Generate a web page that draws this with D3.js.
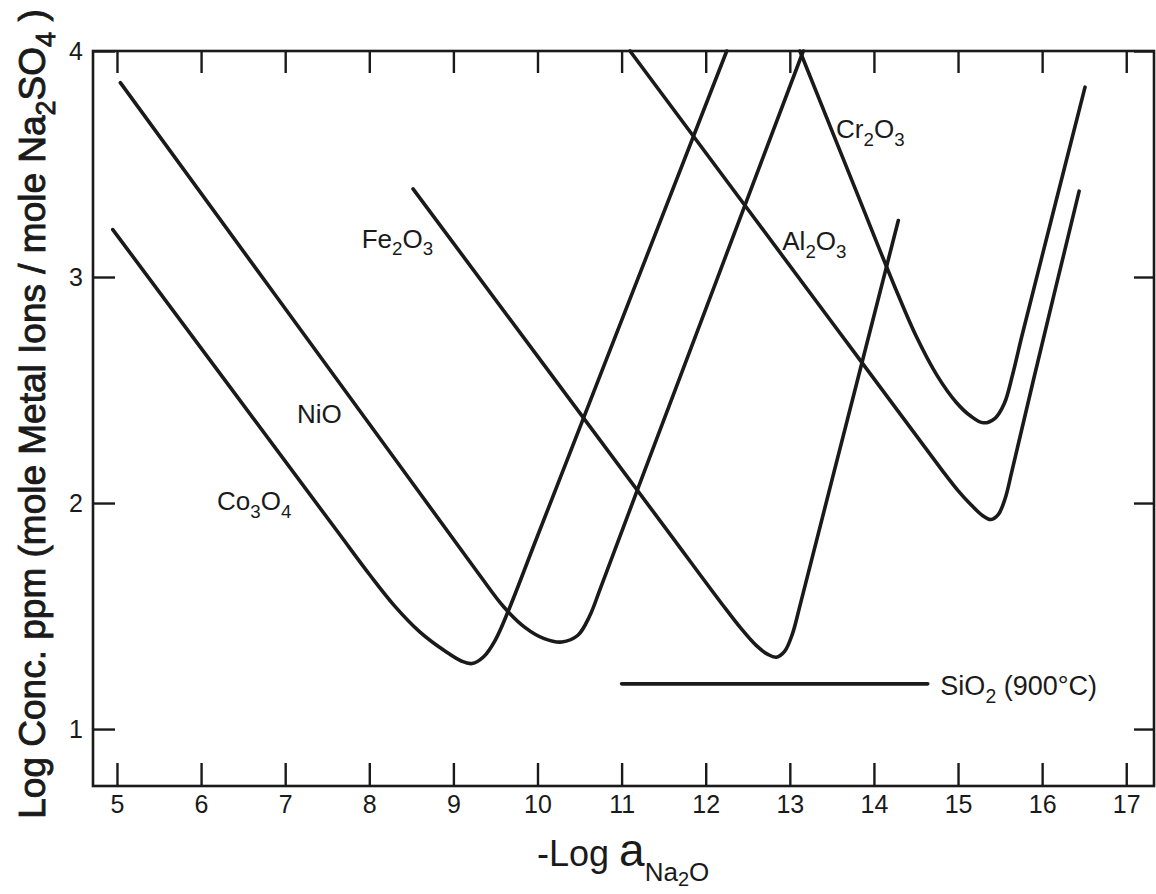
<!DOCTYPE html>
<html>
<head>
<meta charset="utf-8">
<script src="https://cdn.jsdelivr.net/npm/d3@7"></script>
<style>
  body { margin: 0; background: #fff; }
  svg { display: block; }
  text { font-family: "Liberation Sans", Arial, sans-serif; fill: #1a1a1a; }
</style>
</head>
<body>
<div id="chart"></div>
<script>
// tick values
var xTicks = [5, 6, 7, 8, 9, 10, 11, 12, 13, 14, 15, 16, 17];
var yTicks = [1, 2, 3, 4];

// curves: [-log aNa2O, log conc]
var co3o4 = [[4.95, 3.21], [7.6, 1.885], [8.0, 1.685], [8.3, 1.545], [8.6, 1.43],
             [8.9, 1.345], [9.1, 1.30], [9.22, 1.29], [9.36, 1.32], [9.5, 1.395],
             [9.65, 1.52], [10.0, 1.854], [12.25, 4.0]];
var nio = [[5.04, 3.86], [8.5, 2.095], [9.3, 1.687], [9.6, 1.54], [9.85, 1.45],
           [10.08, 1.40], [10.29, 1.385], [10.48, 1.415], [10.62, 1.50], [10.75, 1.625],
           [11.2, 2.07], [13.16, 4.0]];
var fe2o3 = [[8.52, 3.39], [11.5, 1.90], [12.2, 1.55], [12.42, 1.445], [12.6, 1.37],
             [12.74, 1.33], [12.84, 1.318], [12.94, 1.345], [13.03, 1.42], [13.12, 1.545],
             [13.5, 2.10], [14.29, 3.25]];
var al2o3 = [[11.10, 4.0], [13.56, 2.77], [14.8, 2.15], [15.0, 2.055], [15.16, 1.99],
             [15.29, 1.945], [15.39, 1.927], [15.48, 1.95], [15.56, 2.02], [15.64, 2.14],
             [15.9, 2.55], [16.44, 3.38]];
var cr2o3 = [[13.12, 4.0], [13.8, 3.37], [14.25, 2.955], [14.5, 2.74], [14.75, 2.565],
             [14.98, 2.445], [15.15, 2.385], [15.30, 2.355], [15.44, 2.375], [15.55, 2.44],
             [15.65, 2.57], [15.76, 2.74], [16.1, 3.24], [16.51, 3.84]];
var sio2 = [[11.0, 1.2], [14.64, 1.2]];

function init() {
    var w = 1156;
    var h = 894;
    var m = {left: 93, top: 51, right: 2, bottom: 108};

    var x = d3.scaleLinear().domain([4.715, 17.33]).range([m.left, w - m.right]);
    var y = d3.scaleLinear().domain([0.748, 4]).range([h - m.bottom, m.top]);

    var svg = d3.select("#chart")
        .append("svg")
        .attr("width", w)
        .attr("height", h);

    svg.append("rect").attr("width", w).attr("height", h).attr("fill", "#fff");

    var ink = "#1a1a1a";

    //axes, ticks pointing inward
    svg.append("g")
        .attr("transform", "translate(0," + (h - m.bottom) + ")")
        .call(d3.axisBottom(x).tickValues(xTicks).tickSize(-23).tickPadding(9));
    svg.append("g")
        .attr("transform", "translate(0," + m.top + ")")
        .call(d3.axisTop(x).tickValues(xTicks).tickSize(-22).tickFormat(""));
    svg.append("g")
        .attr("transform", "translate(" + m.left + ",0)")
        .call(d3.axisLeft(y).tickValues(yTicks).tickSize(-22).tickPadding(10)
            .tickFormat(d3.format("d")));
    svg.append("g")
        .attr("transform", "translate(" + (w - m.right) + ",0)")
        .call(d3.axisRight(y).tickValues(yTicks).tickSize(-20).tickFormat(""));

    svg.selectAll(".domain").remove();
    svg.selectAll(".tick line").attr("stroke", ink).attr("stroke-width", 2.4);
    svg.selectAll(".tick text")
        .attr("fill", ink)
        .style("font-size", "25px")
        .style("font-family", "Liberation Sans, Arial, sans-serif");

    //frame
    svg.append("rect")
        .attr("x", m.left)
        .attr("y", m.top)
        .attr("width", w - m.left - m.right)
        .attr("height", h - m.top - m.bottom)
        .attr("fill", "none")
        .attr("stroke", ink)
        .attr("stroke-width", 2.6);

    var line = d3.line()
        .x(function(d) { return x(d[0]); })
        .y(function(d) { return y(d[1]); })
        .curve(d3.curveCatmullRom.alpha(0.5));

    var series = [co3o4, nio, fe2o3, al2o3, cr2o3, sio2];
    svg.selectAll("path.curve")
        .data(series)
        .enter()
        .append("path")
        .attr("class", "curve")
        .attr("d", line)
        .attr("fill", "none")
        .attr("stroke", ink)
        .attr("stroke-width", 3.6)
        .attr("stroke-linecap", "round");

    // writes a formula, "_" marks the next character as subscript
    function formula(g, str, px, py, size) {
        var t = g.append("text")
            .attr("x", px)
            .attr("y", py)
            .style("font-size", size + "px");
        var i = 0;
        var buf = "";
        var low = false;
        while (i < str.length) {
            if (str[i] == "_") {
                if (buf) { t.append("tspan").attr("dy", low ? -0.3 * size : 0).text(buf); low = false; buf = ""; }
                t.append("tspan")
                    .attr("dy", 0.3 * size)
                    .style("font-size", (0.72 * size) + "px")
                    .text(str[i + 1]);
                low = true;
                i += 2;
            } else {
                buf += str[i];
                i++;
            }
        }
        if (buf) t.append("tspan").attr("dy", low ? -0.3 * size : 0).text(buf);
        return t;
    }

    var labels = svg.append("g");
    formula(labels, "Cr_2O_3", x(13.55), y(3.615), 26);
    formula(labels, "Al_2O_3", x(12.91), y(3.12), 26);
    formula(labels, "Fe_2O_3", x(7.91), y(3.13), 26);
    formula(labels, "NiO", x(7.14), y(2.355), 26);
    formula(labels, "Co_3O_4", x(6.19), y(1.97), 26);
    formula(labels, "SiO_2 (900°C)", x(14.79), y(1.15), 27);

    //x axis title
    var xt = svg.append("text")
        .attr("x", 537)
        .attr("y", 866)
        .style("font-size", "36px");
    xt.append("tspan").text("-Log ");
    xt.append("tspan").style("font-size", "46px").text("a");
    xt.append("tspan").attr("dy", 15).style("font-size", "26px").text("Na");
    xt.append("tspan").attr("dy", 5).style("font-size", "20px").text("2");
    xt.append("tspan").attr("dy", -5).style("font-size", "26px").text("O");

    //y axis title
    var yt = svg.append("text")
        .attr("transform", "translate(45,414) rotate(-90)")
        .attr("text-anchor", "middle")
        .attr("stroke", ink)
        .attr("stroke-width", 0.9)
        .style("font-size", "37px");
    yt.append("tspan").text("Log Conc. ppm (mole Metal Ions / mole Na");
    yt.append("tspan").attr("dy", 10).style("font-size", "27px").text("2");
    yt.append("tspan").attr("dy", -10).text("SO");
    yt.append("tspan").attr("dy", 10).style("font-size", "27px").text("4");
    yt.append("tspan").attr("dy", -10).text(" )");
}

window.onload = init;
</script>
</body>
</html>
